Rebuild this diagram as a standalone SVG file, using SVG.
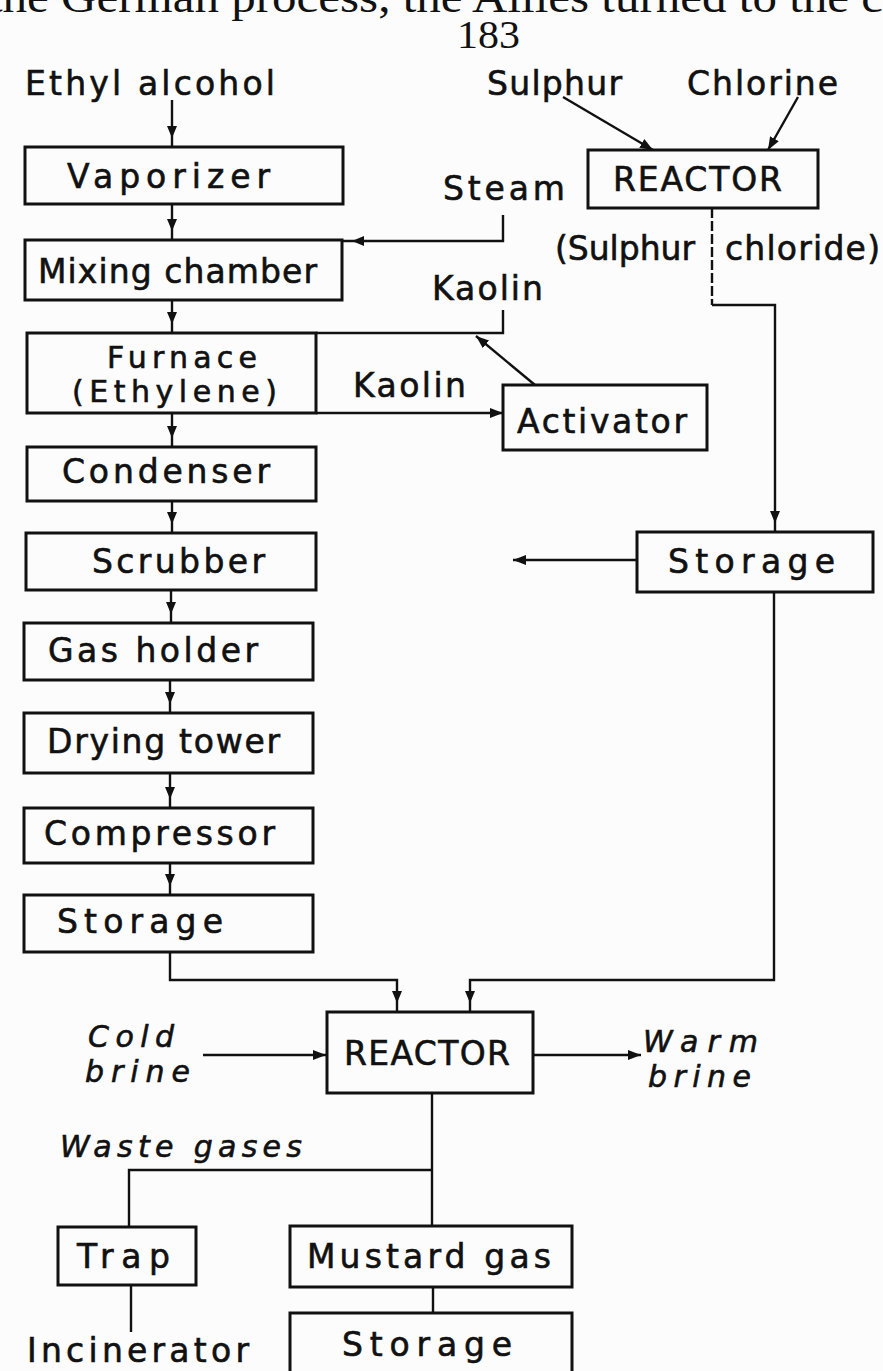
<svg xmlns="http://www.w3.org/2000/svg" width="883" height="1371" viewBox="0 0 883 1371">
<style>
.box{fill:none;stroke:#111;stroke-width:3}
.lbl{font-family:"DejaVu Sans","Liberation Sans",sans-serif;font-size:33px;fill:#111;stroke:#111;stroke-width:0.6}
.sm{font-size:30px}
.it{font-style:italic;font-size:30px}
.ln{fill:none;stroke:#111;stroke-width:2.4}
.dash{stroke-dasharray:10 3}
.serif{font-family:"Liberation Serif",serif;fill:#111}
</style>
<defs>
<marker id="arr" markerUnits="userSpaceOnUse" viewBox="0 0 21 10" markerWidth="21" markerHeight="10" refX="21" refY="5" orient="auto">
<path d="M0,0 L12,5 L0,10 z" fill="#111"/>
</marker>
<marker id="tip" markerUnits="userSpaceOnUse" viewBox="0 0 13 10" markerWidth="13" markerHeight="10" refX="13" refY="5" orient="auto">
<path d="M0,0 L13,5 L0,10 z" fill="#111"/>
</marker>
</defs>
<rect width="883" height="1371" fill="#fcfcfc"/>
<text class="serif" x="-11" y="12" font-size="44" textLength="894" lengthAdjust="spacingAndGlyphs">the German process, the Allies turned to the c</text>
<text class="serif" x="457" y="48" font-size="40" textLength="63" lengthAdjust="spacingAndGlyphs">183</text>

<g id="labels">
<text class="lbl" x="25" y="95" textLength="250">Ethyl alcohol</text>
<text class="lbl" x="487" y="95" textLength="135">Sulphur</text>
<text class="lbl" x="687" y="95" textLength="151">Chlorine</text>
<text class="lbl" x="443" y="200" textLength="122">Steam</text>
<text class="lbl" x="555" y="260" textLength="140">(Sulphur</text>
<text class="lbl" x="725" y="260" textLength="155">chloride)</text>
<text class="lbl" x="432" y="300" textLength="111">Kaolin</text>
<text class="lbl" x="353" y="397" textLength="113">Kaolin</text>
<text class="lbl it" x="88" y="1047" textLength="86">Cold</text>
<text class="lbl it" x="85" y="1082" textLength="105">brine</text>
<text class="lbl it" x="643" y="1052" textLength="115">Warm</text>
<text class="lbl it" x="648" y="1087" textLength="103">brine</text>
<text class="lbl it" x="60" y="1157" textLength="242">Waste gases</text>
<text class="lbl" x="27" y="1362" textLength="222">Incinerator</text>
</g>

<g id="connectors">
<path class="ln" d="M172,100 L172,147" marker-end="url(#arr)"/>
<path class="ln" d="M172,204 L172,240" marker-end="url(#arr)"/>
<path class="ln" d="M172,300 L172,333" marker-end="url(#arr)"/>
<path class="ln" d="M172,413 L172,447" marker-end="url(#arr)"/>
<path class="ln" d="M172,501 L172,533" marker-end="url(#arr)"/>
<path class="ln" d="M171,590 L171,623" marker-end="url(#arr)"/>
<path class="ln" d="M170,680 L170,713" marker-end="url(#arr)"/>
<path class="ln" d="M170,773 L170,808" marker-end="url(#arr)"/>
<path class="ln" d="M170,863 L170,895" marker-end="url(#arr)"/>
<path class="ln" d="M503,215 L503,241 L343,241" marker-end="url(#arr)"/>
<path class="ln" d="M503,310 L503,333 L316,333"/>
<path class="ln" d="M535,385 L476,336" marker-end="url(#tip)"/>
<path class="ln" d="M316,413 L503,413" marker-end="url(#tip)"/>
<path class="ln" d="M563,97 L653,150" marker-end="url(#tip)"/>
<path class="ln" d="M798,97 L768,150" marker-end="url(#tip)"/>
<path class="ln dash" d="M712,208 L712,305"/>
<path class="ln" d="M712,305 L775,305 L775,532" marker-end="url(#arr)"/>
<path class="ln" d="M637,560 L513,560" marker-end="url(#tip)"/>
<path class="ln" d="M170,952 L170,980 L397,980 L397,1012" marker-end="url(#arr)"/>
<path class="ln" d="M774,592 L774,980 L470,980 L470,1012" marker-end="url(#arr)"/>
<path class="ln" d="M203,1055 L326,1055" marker-end="url(#tip)"/>
<path class="ln" d="M533,1055 L641,1055" marker-end="url(#tip)"/>
<path class="ln" d="M432,1093 L432,1226"/>
<path class="ln" d="M432,1170 L129,1170 L129,1227"/>
<path class="ln" d="M131,1285 L131,1332"/>
<path class="ln" d="M433,1287 L433,1313"/>
</g>

<g id="vaporizer"><rect class="box" x="25" y="147" width="318" height="57"/><text class="lbl" x="67" y="188" textLength="203">Vaporizer</text></g>
<g id="mixing-chamber"><rect class="box" x="25" y="240" width="317" height="60"/><text class="lbl" x="38" y="283" textLength="279">Mixing chamber</text></g>
<g id="furnace"><rect class="box" x="27" y="333" width="289" height="80"/><text class="lbl sm" x="107" y="368" textLength="150">Furnace</text><text class="lbl sm" x="72" y="402" textLength="205">(Ethylene)</text></g>
<g id="condenser"><rect class="box" x="27" y="447" width="289" height="54"/><text class="lbl" x="62" y="483" textLength="208">Condenser</text></g>
<g id="scrubber"><rect class="box" x="26" y="533" width="290" height="57"/><text class="lbl" x="92" y="573" textLength="173">Scrubber</text></g>
<g id="gas-holder"><rect class="box" x="24" y="623" width="289" height="57"/><text class="lbl" x="48" y="662" textLength="210">Gas holder</text></g>
<g id="drying-tower"><rect class="box" x="24" y="713" width="289" height="60"/><text class="lbl" x="47" y="753" textLength="233">Drying tower</text></g>
<g id="compressor"><rect class="box" x="24" y="808" width="289" height="55"/><text class="lbl" x="44" y="845" textLength="231">Compressor</text></g>
<g id="storage-ethylene"><rect class="box" x="24" y="895" width="289" height="57"/><text class="lbl" x="57" y="933" textLength="166">Storage</text></g>
<g id="reactor-top"><rect class="box" x="588" y="150" width="230" height="58"/><text class="lbl" x="613" y="191" textLength="169">REACTOR</text></g>
<g id="activator"><rect class="box" x="503" y="385" width="204" height="65"/><text class="lbl" x="517" y="433" textLength="170">Activator</text></g>
<g id="storage-sulphur-chloride"><rect class="box" x="637" y="532" width="236" height="60"/><text class="lbl" x="668" y="573" textLength="167">Storage</text></g>
<g id="reactor-main"><rect class="box" x="327" y="1012" width="206" height="81"/><text class="lbl" x="344" y="1065" textLength="166">REACTOR</text></g>
<g id="trap"><rect class="box" x="58" y="1227" width="138" height="58"/><text class="lbl" x="77" y="1268" textLength="93">Trap</text></g>
<g id="mustard-gas"><rect class="box" x="290" y="1226" width="282" height="61"/><text class="lbl" x="307" y="1268" textLength="244">Mustard gas</text></g>
<g id="storage-mustard"><rect class="box" x="290" y="1313" width="282" height="80"/><text class="lbl" x="342" y="1356" textLength="170">Storage</text></g>
</svg>
